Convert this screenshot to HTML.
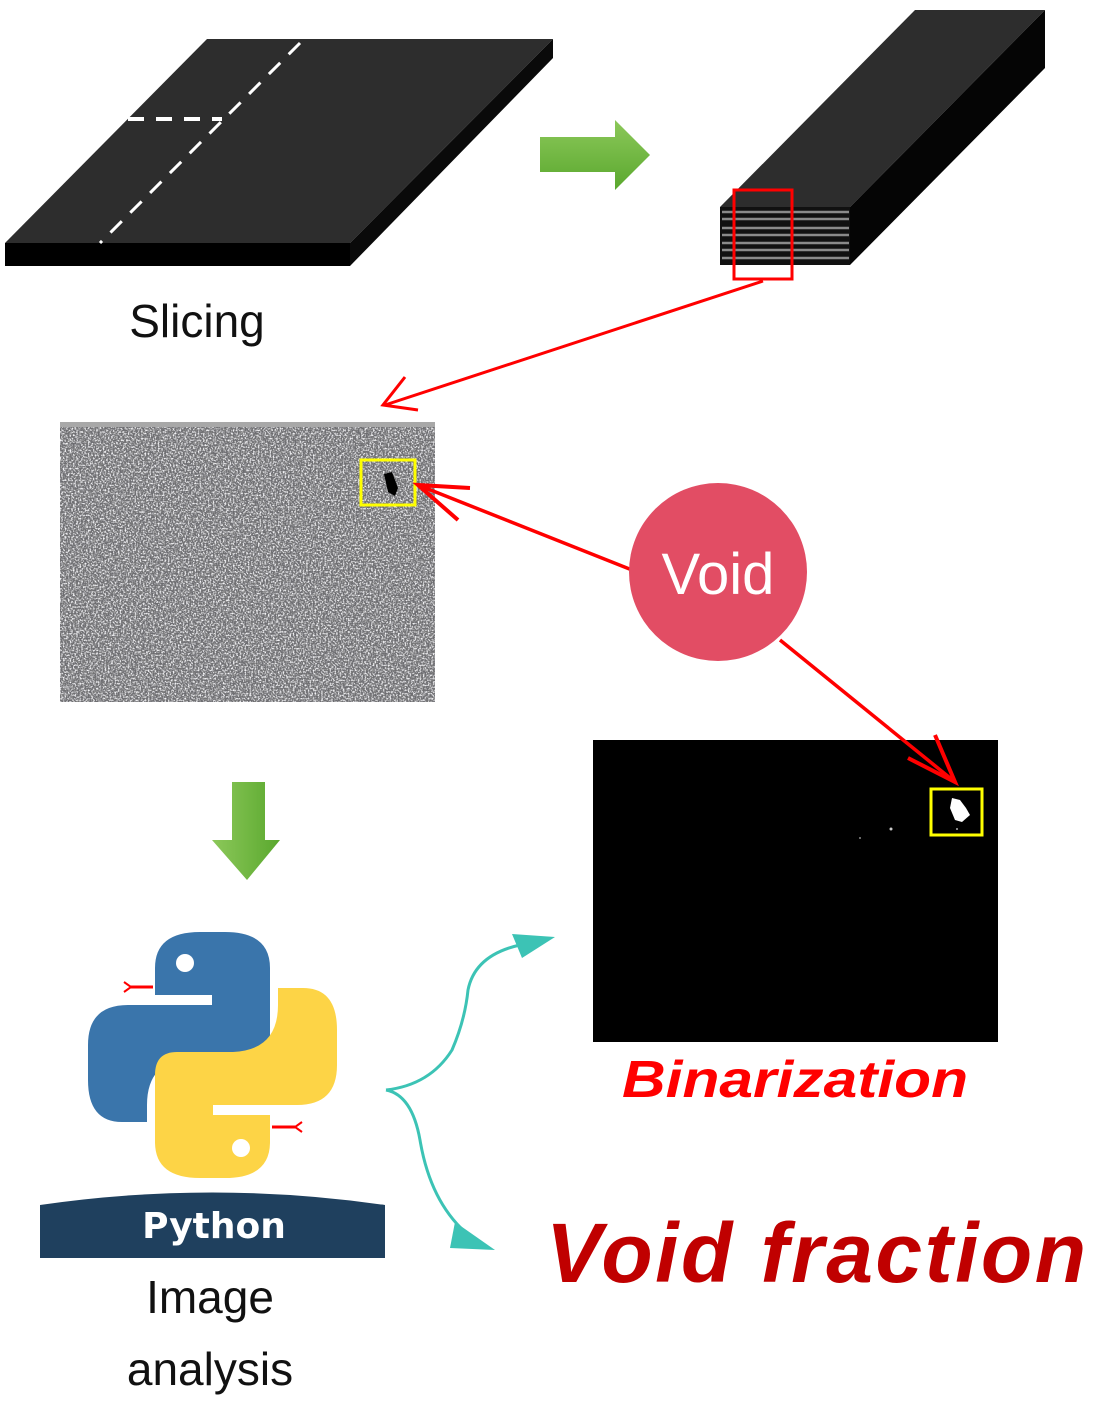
<!DOCTYPE html>
<html><head><meta charset="utf-8"><style>
html,body{margin:0;padding:0;background:#fff;width:1102px;height:1408px;overflow:hidden}
svg{display:block}
</style></head><body>
<svg width="1102" height="1408" viewBox="0 0 1102 1408" xmlns="http://www.w3.org/2000/svg">
<defs>
<linearGradient id="g1" x1="0" y1="0" x2="0" y2="1"><stop offset="0" stop-color="#8cc85a"/><stop offset="1" stop-color="#5aa82e"/></linearGradient>
<linearGradient id="g2" x1="0" y1="0" x2="1" y2="0"><stop offset="0" stop-color="#8cc85a"/><stop offset="1" stop-color="#5aa82e"/></linearGradient>
<filter id="noise" x="0" y="0" width="100%" height="100%">
<feTurbulence type="fractalNoise" baseFrequency="0.6" numOctaves="2" seed="3"/>
<feColorMatrix type="matrix" values="0 0 0 0 0.9  0 0 0 0 0.9  0 0 0 0 0.92  3.5 0 0 0 -1.55"/>
</filter>
<filter id="noise2" x="0" y="0" width="100%" height="100%">
<feTurbulence type="fractalNoise" baseFrequency="0.35" numOctaves="2" seed="9"/>
<feColorMatrix type="matrix" values="0 0 0 0 0.2  0 0 0 0 0.2  0 0 0 0 0.2  0 3 0 0 -1.3"/>
</filter>
</defs>

<!-- slab -->
<polygon points="207,39 553,39 350,243 5,243" fill="#2d2d2d"/>
<polygon points="5,243 350,243 350,266 5,266" fill="#000"/>
<polygon points="553,39 553,58 350,266 350,243" fill="#0a0a0a"/>
<line x1="300" y1="43" x2="100" y2="243" stroke="#fff" stroke-width="3" stroke-dasharray="16,12"/>
<line x1="128" y1="119" x2="222" y2="119" stroke="#fff" stroke-width="4" stroke-dasharray="16,12"/>
<text x="197" y="337" font-family="Liberation Sans, sans-serif" font-size="46" text-anchor="middle" fill="#111">Slicing</text>

<!-- green right arrow -->
<polygon points="540,137 615,137 615,120 650,155 615,190 615,172 540,172" fill="url(#g1)"/>

<!-- stack -->
<polygon points="915,10 1045,10 850,207 720,207" fill="#2d2d2d"/>
<polygon points="1045,10 1045,68 850,265 850,207" fill="#050505"/>
<rect x="720" y="207" width="130" height="58" fill="#111"/>
<g stroke="#8a8a8a" stroke-width="2.5">
<line x1="722" y1="212" x2="849" y2="212"/><line x1="722" y1="219" x2="849" y2="219"/>
<line x1="722" y1="228" x2="849" y2="228"/><line x1="722" y1="235" x2="849" y2="235"/>
<line x1="722" y1="243" x2="849" y2="243"/><line x1="722" y1="250" x2="849" y2="250"/>
<line x1="722" y1="258" x2="849" y2="258"/>
</g>
<rect x="734" y="190" width="58" height="89" fill="none" stroke="#f00" stroke-width="3"/>

<!-- red arrow to photo -->
<line x1="763" y1="281" x2="385" y2="405" stroke="#f00" stroke-width="3"/>
<polyline points="405,377 383,405 418,410" fill="none" stroke="#f00" stroke-width="3"/>

<!-- photo -->
<rect x="60" y="422" width="375" height="280" fill="#6c6c70"/>
<rect x="60" y="422" width="375" height="280" filter="url(#noise2)"/>
<rect x="60" y="422" width="375" height="280" filter="url(#noise)"/>
<rect x="60" y="422" width="375" height="5" fill="#a8a8a8"/>
<path d="M384,474 L392,472 L398,488 L395,496 L388,492 Z" fill="#000"/>
<rect x="361" y="460" width="54" height="45" fill="none" stroke="#ff0" stroke-width="3"/>

<!-- binary image -->
<rect x="593" y="740" width="405" height="302" fill="#000"/>
<path d="M952,798 L960,800 L966,808 L970,815 L962,822 L955,820 L950,808 Z" fill="#fff"/>
<circle cx="891" cy="829" r="1.5" fill="#ccc"/><circle cx="860" cy="838" r="1" fill="#888"/><circle cx="957" cy="829" r="1" fill="#aaa"/>
<rect x="931" y="789" width="51" height="46" fill="none" stroke="#ff0" stroke-width="3"/>

<!-- void connectors -->
<line x1="632" y1="570" x2="418" y2="485" stroke="#f00" stroke-width="3.5"/>
<polyline points="470,488 418,485 458,520" fill="none" stroke="#f00" stroke-width="4"/>
<line x1="780" y1="640" x2="955" y2="782" stroke="#f00" stroke-width="3.5"/>
<polyline points="908,758 955,782 935,735" fill="none" stroke="#f00" stroke-width="4"/>
<circle cx="718" cy="572" r="89" fill="#e24d64"/>
<text x="718" y="594" font-family="Liberation Sans, sans-serif" font-size="58" fill="#fff" text-anchor="middle">Void</text>

<text x="795" y="1097" font-family="Liberation Sans, sans-serif" font-weight="bold" font-style="italic" font-size="52" fill="#f00" text-anchor="middle" textLength="346" lengthAdjust="spacingAndGlyphs">Binarization</text>

<!-- down arrow -->
<polygon points="232,782 265,782 265,840 280,840 247,880 212,840 232,840" fill="url(#g2)"/>

<!-- python logo -->
<path d="M155,968 Q155,932 200,932 L225,932 Q270,932 270,968 L270,1035 Q270,1058 248,1058 L192,1058 Q147,1060 147,1105 L147,1122 L122,1122 Q88,1122 88,1080 L88,1045 Q88,1005 128,1005 L212,1005 L212,995 L155,995 Z" fill="#3a75ab"/>
<path d="M270,1142 Q270,1178 225,1178 L200,1178 Q155,1178 155,1142 L155,1075 Q155,1052 177,1052 L233,1052 Q278,1050 278,1005 L278,988 L303,988 Q337,988 337,1030 L337,1065 Q337,1105 297,1105 L213,1105 L213,1115 L270,1115 Z" fill="#fdd446"/>
<circle cx="185" cy="963" r="9" fill="#fff"/>
<circle cx="241" cy="1148" r="9" fill="#fff"/>
<line x1="130" y1="987" x2="153" y2="987" stroke="#f00" stroke-width="3"/>
<polyline points="124,982 131,987 124,992" fill="none" stroke="#f00" stroke-width="2"/>
<line x1="272" y1="1127" x2="295" y2="1127" stroke="#f00" stroke-width="3"/>
<polyline points="302,1122 295,1127 302,1132" fill="none" stroke="#f00" stroke-width="2"/>
<path d="M40,1205 Q212,1180 385,1205 L385,1258 L40,1258 Z" fill="#1f405e"/>
<text x="214" y="1238" font-family="DejaVu Sans, sans-serif" font-weight="bold" font-size="36" fill="#fff" text-anchor="middle">Python</text>
<text x="210" y="1313" font-family="Liberation Sans, sans-serif" font-size="46" fill="#111" text-anchor="middle">Image</text>
<text x="210" y="1385" font-family="Liberation Sans, sans-serif" font-size="46" fill="#111" text-anchor="middle">analysis</text>

<!-- teal brace -->
<path d="M386,1090 Q430,1085 452,1050 Q465,1020 468,990 Q475,955 520,945" fill="none" stroke="#3cc3b5" stroke-width="3"/>
<polygon points="555,937 512,934 522,958" fill="#3cc3b5"/>
<path d="M386,1090 Q412,1095 420,1140 Q430,1200 465,1232" fill="none" stroke="#3cc3b5" stroke-width="3"/>
<polygon points="495,1250 455,1222 450,1248" fill="#3cc3b5"/>

<text x="816" y="1282" font-family="Liberation Sans, sans-serif" font-weight="bold" font-style="italic" font-size="84" fill="#c00000" text-anchor="middle" textLength="540">Void fraction</text>
</svg>
</body></html>
